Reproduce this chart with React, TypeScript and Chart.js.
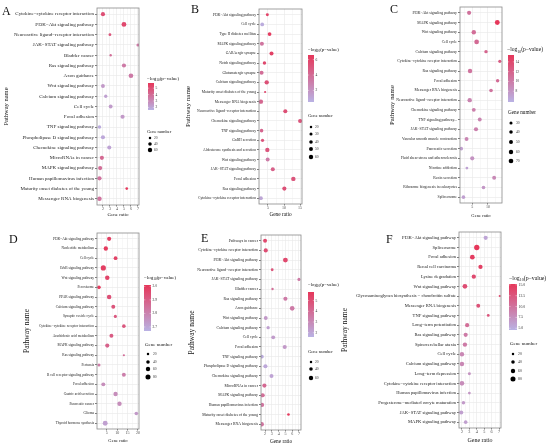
import React, { useEffect, useRef } from "react";
import { Chart, registerables } from "chart.js";

Chart.register(...registerables);

const SERIF = '"Liberation Serif", "Times New Roman", Times, serif';

// ---------------- Panel A ----------------
const pathwaysA = [
  "Cytokine−cytokine receptor interaction",
  "PI3K−Akt signaling pathway",
  "Neuroactive ligand−receptor interaction",
  "JAK−STAT signaling pathway",
  "Bladder cancer",
  "Ras signaling pathway",
  "Axon guidance",
  "Wnt signaling pathway",
  "Calcium signaling pathway",
  "Cell cycle",
  "Focal adhesion",
  "TNF signaling pathway",
  "Phospholipase D signaling pathway",
  "Chemokine signaling pathway",
  "MicroRNAs in cancer",
  "MAPK signaling pathway",
  "Human papillomavirus infection",
  "Maturity onset diabetes of the young",
  "Messenger RNA biogenesis",
];
const ratioA = [2.0, 5.0, 3.0, 7.0, 3.1, 5.0, 6.0, 2.0, 2.4, 3.1, 4.8, 1.5, 2.0, 2.9, 1.85, 1.6, 1.5, 5.4, 1.5];
const genesA = [55, 75, 25, 30, 18, 55, 70, 48, 35, 48, 55, 40, 55, 52, 55, 55, 58, 22, 65];
const logPA = [5.0, 5.2, 4.75, 3.5, 3.9, 3.5, 3.5, 2.45, 2.2, 2.35, 2.45, 1.8, 1.95, 2.1, 4.1, 3.9, 3.7, 5.7, 3.7];
const ratioTicksA = [2, 3, 4, 5, 6, 7];
const colorTicksA = [2, 3, 4, 5];
const sizeTicksA = [20, 40, 60];

// ---------------- Panel B ----------------
const pathwaysB = [
  "PI3K−Akt signaling pathway",
  "Cell cycle",
  "Type II diabetes mellitus",
  "MAPK signaling pathway",
  "GABAergic synapse",
  "Notch signaling pathway",
  "Glutamatergic synapse",
  "Calcium signaling pathway",
  "Maturity onset diabetes of the young",
  "Messenger RNA biogenesis",
  "Neuroactive ligand−receptor interaction",
  "Chemokine signaling pathway",
  "TNF signaling pathway",
  "GnRH secretion",
  "Aldosterone synthesis and secretion",
  "Wnt signaling pathway",
  "JAK−STAT signaling pathway",
  "Focal adhesion",
  "Ras signaling pathway",
  "Cytokine−cytokine receptor interaction",
];
const ratioB = [4.8, 3.2, 5.5, 3.1, 6.1, 3.9, 3.0, 4.6, 4.1, 2.8, 10.4, 15.0, 3.0, 3.3, 4.8, 4.9, 6.5, 12.9, 10.1, 2.8];
const genesB = [28, 45, 45, 52, 52, 38, 52, 60, 15, 60, 52, 52, 40, 33, 60, 50, 52, 63, 55, 45];
const logPB = [6.0, 0.8, 6.3, 3.55, 6.1, 5.7, 3.9, 5.3, 5.7, 4.2, 5.4, 5.1, 4.3, 5.1, 5.1, 3.2, 4.5, 5.1, 5.3, 1.1];
const ratioTicksB = [5, 10, 15];
const colorTicksB = [2, 4, 6];
const sizeTicksB = [20, 30, 40, 50, 60];

// ---------------- Panel C ----------------
const pathwaysC = [
  "PI3K−Akt signaling pathway",
  "MAPK signaling pathway",
  "Wnt signaling pathway",
  "Cell cycle",
  "Calcium signaling pathway",
  "Cytokine−cytokine receptor interaction",
  "Ras signaling pathway",
  "Focal adhesion",
  "Messenger RNA biogenesis",
  "Neuroactive ligand−receptor interaction",
  "Chemokine signaling pathway",
  "TNF signaling pathway...",
  "JAK−STAT signaling pathway",
  "Vascular smooth muscle contraction",
  "Pancreatic secretion",
  "Fluid shear stress and atherosclerosis",
  "Nicotine addiction",
  "Renin secretion",
  "Ribosome biogenesis in eukaryotes",
  "Spliceosome",
];
const ratioC = [4.0, 13.0, 5.5, 6.4, 9.4, 13.8, 4.3, 13.1, 11.0, 4.2, 5.5, 7.4, 6.2, 3.2, 1.5, 5.0, 3.3, 12.0, 8.6, 2.2];
const genesC = [55, 75, 62, 70, 38, 32, 62, 38, 42, 62, 48, 48, 55, 48, 42, 55, 25, 50, 42, 42];
const logPC = [10.8, 15.4, 11.1, 11.4, 11.8, 12.5, 10.6, 11.4, 10.6, 9.4, 9.8, 9.4, 9.6, 9.2, 7.2, 8.2, 7.0, 9.0, 7.9, 7.2];
const ratioTicksC = [5, 10];
const colorTicksC = [8, 10, 12, 14];
const sizeTicksC = [30, 40, 50, 60, 70];

// ---------------- Panel D ----------------
const pathwaysD = [
  "PI3K−Akt signaling pathway",
  "Nucleotide metabolism",
  "Cell cycle",
  "ErbB signaling pathway",
  "Wnt signaling pathway",
  "Peroxisome",
  "PPAR signaling pathway",
  "Calcium signaling pathway",
  "Synaptic vesicle cycle",
  "Cytokine−cytokine receptor interaction",
  "Arachidonic acid metabolism",
  "MAPK signaling pathway",
  "Ras signaling pathway",
  "Pertussis",
  "B cell receptor signaling pathway",
  "Focal adhesion",
  "Gastric acid secretion",
  "Pancreatic cancer",
  "Glioma",
  "Thyroid hormone synthesis",
];
const ratioD = [6.1, 4.5, 9.2, 3.3, 5.2, 1.2, 6.1, 8.1, 9.1, 13.2, 7.2, 5.2, 13.2, 1.2, 13.2, 3.3, 9.2, 11.1, 19.2, 4.2];
const genesD = [55, 60, 45, 85, 65, 42, 65, 50, 32, 42, 50, 55, 15, 30, 50, 50, 62, 62, 42, 78];
const logPD = [2.99, 3.0, 2.98, 2.99, 2.97, 3.0, 2.94, 2.93, 2.92, 2.92, 2.91, 2.89, 2.86, 2.82, 2.81, 2.77, 2.77, 2.77, 2.74, 2.72];
const ratioTicksD = [5, 10, 15, 20];
const colorTicksD = [2.7, 2.8, 2.9, 3.0];
const sizeTicksD = [20, 40, 60, 80];

// ---------------- Panel E ----------------
const pathwaysE = [
  "Pathways in cancer",
  "Cytokine−cytokine receptor interaction",
  "PI3K−Akt signaling pathway",
  "Neuroactive ligand−receptor interaction",
  "JAK−STAT signaling pathway",
  "Bladder cancer",
  "Ras signaling pathway",
  "Axon guidance",
  "Wnt signaling pathway",
  "Calcium signaling pathway",
  "Cell cycle",
  "Focal adhesion",
  "TNF signaling pathway",
  "Phospholipase D signaling pathway",
  "Chemokine signaling pathway",
  "MicroRNAs in cancer",
  "MAPK signaling pathway",
  "Human papillomavirus infection",
  "Maturity onset diabetes of the young",
  "Messenger RNA biogenesis",
];
const ratioE = [2.0, 2.1, 5.0, 3.05, 7.0, 3.1, 5.0, 6.0, 2.1, 2.45, 3.2, 4.9, 1.55, 2.05, 2.95, 1.9, 1.65, 1.55, 5.45, 1.5];
const genesE = [50, 55, 75, 25, 30, 18, 55, 70, 48, 35, 48, 55, 40, 55, 52, 55, 55, 58, 22, 65];
const logPE = [5.2, 5.0, 5.2, 4.75, 3.5, 3.9, 3.5, 3.5, 2.45, 2.2, 2.35, 2.45, 1.8, 1.95, 2.1, 4.1, 3.9, 3.7, 5.7, 3.7];
const ratioTicksE = [2, 3, 4, 5, 6, 7];
const colorTicksE = [2, 3, 4, 5];
const sizeTicksE = [20, 40, 60];

// ---------------- Panel F ----------------
const pathwaysF = [
  "PI3K−Akt signaling pathway",
  "Spliceosome",
  "Focal adhesion",
  "Renal cell carcinoma",
  "Lysine degradation",
  "Wnt signaling pathway",
  "Glycosaminoglycan biosynthesis − chondroitin sulfate",
  "Messenger RNA biogenesis",
  "TNF signaling pathway",
  "Long−term potentiation",
  "Ras signaling pathway",
  "Spinocerebellar ataxia",
  "Cell cycle",
  "Calcium signaling pathway",
  "Long−term depression",
  "Cytokine−cytokine receptor interaction",
  "Human papillomavirus infection",
  "Progesterone−mediated oocyte maturation",
  "JAK−STAT signaling pathway",
  "MAPK signaling pathway",
];
const ratioF = [5.2, 4.0, 3.4, 4.5, 3.6, 2.4, 7.1, 4.2, 5.55, 2.7, 2.5, 2.4, 2.0, 2.0, 3.0, 2.0, 3.0, 2.2, 1.9, 2.5];
const genesF = [55, 90, 72, 58, 58, 72, 15, 48, 25, 55, 55, 60, 62, 62, 28, 68, 24, 40, 55, 42];
const logPF = [5.7, 15.2, 14.7, 14.4, 13.6, 13.3, 13.6, 12.9, 12.5, 10.4, 9.4, 9.4, 8.3, 8.3, 7.3, 7.8, 7.0, 6.7, 6.2, 6.2];
const ratioTicksF = [2, 3, 4, 5, 6, 7];
const colorTicksF = [5, 7.5, 10, 12.5, 15];
const sizeTicksF = [20, 40, 60, 80];

// ---------------- styling helpers ----------------
const LOW = [185, 178, 228];
const HIGH = [230, 55, 90];
const SIZE_K = 0.28;
const radius = (n: number) => SIZE_K * Math.sqrt(n);
const rgb = (c: number[]) => `rgb(${c.map((v) => Math.round(v)).join(",")})`;
const colorFor = (v: number, range: number[]) => {
  const t = Math.max(0, Math.min(1, (v - range[0]) / (range[1] - range[0])));
  return rgb(LOW.map((l, i) => l + (HIGH[i] - l) * t));
};

type Spec = {
  letter: string;
  names: string[];
  ratio: number[];
  genes: number[];
  logP: number[];
  xTicks: number[];
  minorStep: number;
  colorTicks: number[];
  cbDigits: number;
  sizeTicks: number[];
  box: number[]; // l, t, w, h
  plot: number[]; // l, t, r, b
  xRange: number[];
  cRange: number[];
  labelFont: number;
  tickFont: number;
  xTitleFont: number;
  xTitleY: number;
  yTitleFont: number;
  yTitleX: number;
  letterAt: number[];
  letterSize: number;
  cbTitleAt: number[];
  cbTitleSize: number;
  cbar: number[];
  cbLabelSize: number;
  sizeTitleAt: number[];
  sizeTitleSize: number;
  sizeYs: number[];
  sizeDotX: number;
  sizeLabelX: number;
  sizeLabelSize: number;
};

const specs: Spec[] = [
  {
    letter: "A", names: pathwaysA, ratio: ratioA, genes: genesA, logP: logPA,
    xTicks: ratioTicksA, minorStep: 0.5, colorTicks: colorTicksA, cbDigits: 0, sizeTicks: sizeTicksA,
    box: [0, 0, 183, 224], plot: [97, 8, 139, 205], xRange: [1.15, 7.15], cRange: [1.6, 5.8],
    labelFont: 5, tickFont: 4, xTitleFont: 5, xTitleY: 214.5, yTitleFont: 6.5, yTitleX: 6,
    letterAt: [2, 15], letterSize: 12,
    cbTitleAt: [147, 79], cbTitleSize: 5, cbar: [148, 83, 6, 27], cbLabelSize: 3.6,
    sizeTitleAt: [147, 132], sizeTitleSize: 4.5, sizeYs: [138, 144, 150], sizeDotX: 150, sizeLabelX: 154, sizeLabelSize: 3.6,
  },
  {
    letter: "B", names: pathwaysB, ratio: ratioB, genes: genesB, logP: logPB,
    xTicks: ratioTicksB, minorStep: 2.5, colorTicks: colorTicksB, cbDigits: 0, sizeTicks: sizeTicksB,
    box: [183, 0, 180, 224], plot: [259, 9, 302, 204], xRange: [2.2, 15.6], cRange: [0.5, 6.6],
    labelFont: 3.7, tickFont: 4, xTitleFont: 5.3, xTitleY: 215, yTitleFont: 7, yTitleX: 188,
    letterAt: [191, 13], letterSize: 12,
    cbTitleAt: [308, 50], cbTitleSize: 4.8, cbar: [308, 55, 6, 47], cbLabelSize: 3.6,
    sizeTitleAt: [308, 116], sizeTitleSize: 4.6, sizeYs: [127, 134, 142, 149, 157], sizeDotX: 311, sizeLabelX: 315, sizeLabelSize: 3.6,
  },
  {
    letter: "C", names: pathwaysC, ratio: ratioC, genes: genesC, logP: logPC,
    xTicks: ratioTicksC, minorStep: 2.5, colorTicks: colorTicksC, cbDigits: 0, sizeTicks: sizeTicksC,
    box: [363, 0, 187, 224], plot: [460, 7, 502, 203], xRange: [1.1, 14.5], cRange: [5.8, 15.4],
    labelFont: 3.8, tickFont: 4, xTitleFont: 4.6, xTitleY: 215.5, yTitleFont: 6.8, yTitleX: 392,
    letterAt: [390, 13], letterSize: 12,
    cbTitleAt: [507, 50], cbTitleSize: 5.6, cbar: [508, 55, 6, 47], cbLabelSize: 3.6,
    sizeTitleAt: [508, 113], sizeTitleSize: 5.2, sizeYs: [123, 132, 142, 152, 161], sizeDotX: 511, sizeLabelX: 516, sizeLabelSize: 3.6,
  },
  {
    letter: "D", names: pathwaysD, ratio: ratioD, genes: genesD, logP: logPD,
    xTicks: ratioTicksD, minorStep: 2.5, colorTicks: colorTicksD, cbDigits: 1, sizeTicks: sizeTicksD,
    box: [0, 224, 183, 224], plot: [97, 233, 139, 429], xRange: [0.25, 20.5], cRange: [2.67, 3.01],
    labelFont: 3.5, tickFont: 4, xTitleFont: 4.6, xTitleY: 440.5, yTitleFont: 7.5, yTitleX: 27,
    letterAt: [9, 243], letterSize: 12,
    cbTitleAt: [144, 278], cbTitleSize: 5, cbar: [144, 285, 7, 46], cbLabelSize: 3.6,
    sizeTitleAt: [145, 345], sizeTitleSize: 5, sizeYs: [354, 362, 369, 377], sizeDotX: 148, sizeLabelX: 153, sizeLabelSize: 3.6,
  },
  {
    letter: "E", names: pathwaysE, ratio: ratioE, genes: genesE, logP: logPE,
    xTicks: ratioTicksE, minorStep: 0.5, colorTicks: colorTicksE, cbDigits: 0, sizeTicks: sizeTicksE,
    box: [183, 224, 160, 224], plot: [261, 235, 301, 430], xRange: [1.4, 7.3], cRange: [1.6, 5.8],
    labelFont: 3.8, tickFont: 4, xTitleFont: 5.3, xTitleY: 441.5, yTitleFont: 7.5, yTitleX: 192,
    letterAt: [201, 242], letterSize: 12,
    cbTitleAt: [308, 285], cbTitleSize: 4.8, cbar: [308, 292, 6, 45], cbLabelSize: 3.6,
    sizeTitleAt: [308, 352], sizeTitleSize: 4.6, sizeYs: [362, 369, 378], sizeDotX: 311, sizeLabelX: 315, sizeLabelSize: 3.6,
  },
  {
    letter: "F", names: pathwaysF, ratio: ratioF, genes: genesF, logP: logPF,
    xTicks: ratioTicksF, minorStep: 0.5, colorTicks: colorTicksF, cbDigits: 1, sizeTicks: sizeTicksF,
    box: [338, 224, 212, 224], plot: [459, 232, 501, 428], xRange: [1.6, 7.27], cRange: [4.6, 15.2],
    labelFont: 4.6, tickFont: 4.2, xTitleFont: 6, xTitleY: 440, yTitleFont: 7.5, yTitleX: 345,
    letterAt: [386, 243], letterSize: 12,
    cbTitleAt: [509, 278], cbTitleSize: 5.8, cbar: [509, 284, 8, 46], cbLabelSize: 3.8,
    sizeTitleAt: [510, 344], sizeTitleSize: 5, sizeYs: [354, 362, 371, 379], sizeDotX: 513, sizeLabelX: 518, sizeLabelSize: 3.8,
  },
];

function makeDecor(p: Spec) {
  const ox = p.box[0];
  const oy = p.box[1];
  return {
    id: "decor" + p.letter,
    afterDatasetsDraw(chart: any) {
      const { ctx, chartArea: a } = chart;
      ctx.save();
      ctx.strokeStyle = "#8a8a8a";
      ctx.lineWidth = 0.8;
      ctx.strokeRect(a.left, a.top, a.right - a.left, a.bottom - a.top);
      ctx.restore();
    },
    afterDraw(chart: any) {
      const ctx: CanvasRenderingContext2D = chart.ctx;
      ctx.save();
      // panel letter
      ctx.fillStyle = "#111";
      ctx.textBaseline = "alphabetic";
      ctx.textAlign = "left";
      ctx.font = `${p.letterSize}px ${SERIF}`;
      ctx.fillText(p.letter, p.letterAt[0] - ox, p.letterAt[1] - oy);

      // colour legend title: −log10(p−value)
      const fs = p.cbTitleSize;
      let tx = p.cbTitleAt[0] - ox;
      const ty = p.cbTitleAt[1] - oy;
      ctx.textBaseline = "middle";
      ctx.font = `${fs}px ${SERIF}`;
      ctx.fillText("−log", tx, ty);
      tx += ctx.measureText("−log").width;
      ctx.font = `${fs * 0.7}px ${SERIF}`;
      ctx.fillText("10", tx, ty + fs * 0.3);
      tx += ctx.measureText("10").width;
      ctx.font = `${fs}px ${SERIF}`;
      ctx.fillText("(p−value)", tx, ty);

      // colour bar
      const [bx0, by0, bw, bh] = p.cbar;
      const bx = bx0 - ox;
      const by = by0 - oy;
      const g = ctx.createLinearGradient(0, by + bh, 0, by);
      g.addColorStop(0, rgb(LOW));
      g.addColorStop(1, rgb(HIGH));
      ctx.fillStyle = g;
      ctx.fillRect(bx, by, bw, bh);
      ctx.font = `${p.cbLabelSize}px ${SERIF}`;
      const [c0, c1] = p.cRange;
      p.colorTicks.forEach((v) => {
        const yy = by + bh - ((v - c0) / (c1 - c0)) * bh;
        ctx.strokeStyle = "#fff";
        ctx.lineWidth = 0.4;
        ctx.beginPath();
        ctx.moveTo(bx, yy);
        ctx.lineTo(bx + bw * 0.2, yy);
        ctx.moveTo(bx + bw * 0.8, yy);
        ctx.lineTo(bx + bw, yy);
        ctx.stroke();
        ctx.fillStyle = "#333";
        ctx.fillText(v.toFixed(p.cbDigits), bx + bw + 1.5, yy);
      });

      // size legend
      ctx.fillStyle = "#111";
      ctx.font = `${p.sizeTitleSize}px ${SERIF}`;
      ctx.fillText("Gene number", p.sizeTitleAt[0] - ox, p.sizeTitleAt[1] - oy);
      ctx.font = `${p.sizeLabelSize}px ${SERIF}`;
      p.sizeTicks.forEach((n, i) => {
        const yy = p.sizeYs[i] - oy;
        ctx.beginPath();
        ctx.arc(p.sizeDotX - ox, yy, radius(n), 0, Math.PI * 2);
        ctx.fillStyle = "#000";
        ctx.fill();
        ctx.fillStyle = "#333";
        ctx.fillText(String(n), p.sizeLabelX - ox, yy);
      });
      ctx.restore();
    },
  };
}

function Panel({ spec }: { spec: Spec }) {
  const ref = useRef<HTMLCanvasElement | null>(null);
  useEffect(() => {
    const canvas = ref.current;
    if (!canvas) return;
    const p = spec;
    const [bl, bt, bw, bh] = p.box;
    const [pl, pt, pr, pb] = p.plot;
    const [xmin, xmax] = p.xRange;
    const minors: number[] = [];
    const first = p.xTicks[0];
    for (let v = first - p.minorStep * 8; v <= xmax + 1e-9; v += p.minorStep) {
      if (v >= xmin - 1e-9 && !p.xTicks.some((m) => Math.abs(m - v) < 1e-9)) minors.push(v);
    }
    const allX = [...p.xTicks, ...minors].sort((a, b) => a - b);
    const isMajor = (v: number) => p.xTicks.some((m) => Math.abs(m - v) < 1e-9);
    const n = p.names.length;
    const xLH = p.xTitleFont * 1.2;
    const yLH = p.yTitleFont * 1.2;

    const chart = new Chart(canvas, {
      type: "bubble",
      data: {
        datasets: [
          {
            data: p.names.map((_, i) => ({ x: p.ratio[i], y: i, r: radius(p.genes[i]) })),
            backgroundColor: p.logP.map((v) => colorFor(v, p.cRange)),
            borderWidth: 0,
            hoverBorderWidth: 0,
            clip: 0,
          } as any,
        ],
      },
      options: {
        responsive: false,
        animation: false,
        events: [],
        layout: { padding: { left: 0, top: pt - bt, right: bl + bw - pr, bottom: 0 } },
        plugins: { legend: { display: false }, tooltip: { enabled: false } },
        scales: {
          x: {
            type: "linear",
            min: xmin,
            max: xmax,
            afterBuildTicks: (s: any) => {
              s.ticks = allX.map((v) => ({ value: v }));
            },
            afterFit: (s: any) => {
              s.height = bt + bh - pb;
            },
            ticks: {
              autoSkip: false,
              maxRotation: 0,
              padding: 0,
              color: "#4d4d4d",
              font: { family: SERIF, size: p.tickFont },
              callback: (v: any) => (isMajor(Number(v)) ? String(v) : ""),
            },
            grid: {
              color: "#ebebeb",
              lineWidth: (c: any) => (c.tick && isMajor(c.tick.value) ? 0.7 : 0.35),
              tickLength: 1.5,
              tickColor: (c: any) => (c.tick && isMajor(c.tick.value) ? "#444" : "rgba(0,0,0,0)"),
            },
            border: { display: false },
            title: {
              display: true,
              text: "Gene ratio",
              color: "#111",
              font: { family: SERIF, size: p.xTitleFont },
              padding: { top: 0, bottom: bh - xLH / 2 - (p.xTitleY - bt) },
            },
          },
          y: {
            type: "linear",
            reverse: true,
            min: -0.6,
            max: n - 0.4,
            afterBuildTicks: (s: any) => {
              s.ticks = p.names.map((_, i) => ({ value: i }));
            },
            afterFit: (s: any) => {
              s.width = pl - bl;
            },
            ticks: {
              autoSkip: false,
              padding: 1,
              color: "#222",
              font: { family: SERIF, size: p.labelFont },
              callback: (v: any) => p.names[Number(v)] ?? "",
            },
            grid: { color: "#ebebeb", lineWidth: 0.7, tickLength: 2, tickColor: "#444" },
            border: { display: false },
            title: {
              display: true,
              text: "Pathway name",
              color: "#111",
              font: { family: SERIF, size: p.yTitleFont },
              padding: { top: p.yTitleX - bl - yLH / 2, bottom: 0 },
            },
          },
        },
      } as any,
      plugins: [makeDecor(p)],
    });
    return () => chart.destroy();
  }, [spec]);

  const [l, t, w, h] = spec.box;
  return (
    <canvas
      ref={ref}
      width={w}
      height={h}
      style={{ position: "absolute", left: l, top: t, width: w, height: h }}
    />
  );
}

export default function App() {
  return (
    <div style={{ position: "absolute", left: 0, top: 0, width: 550, height: 448, background: "#fff", overflow: "hidden" }}>
      {specs.map((s) => (
        <Panel key={s.letter} spec={s} />
      ))}
    </div>
  );
}
